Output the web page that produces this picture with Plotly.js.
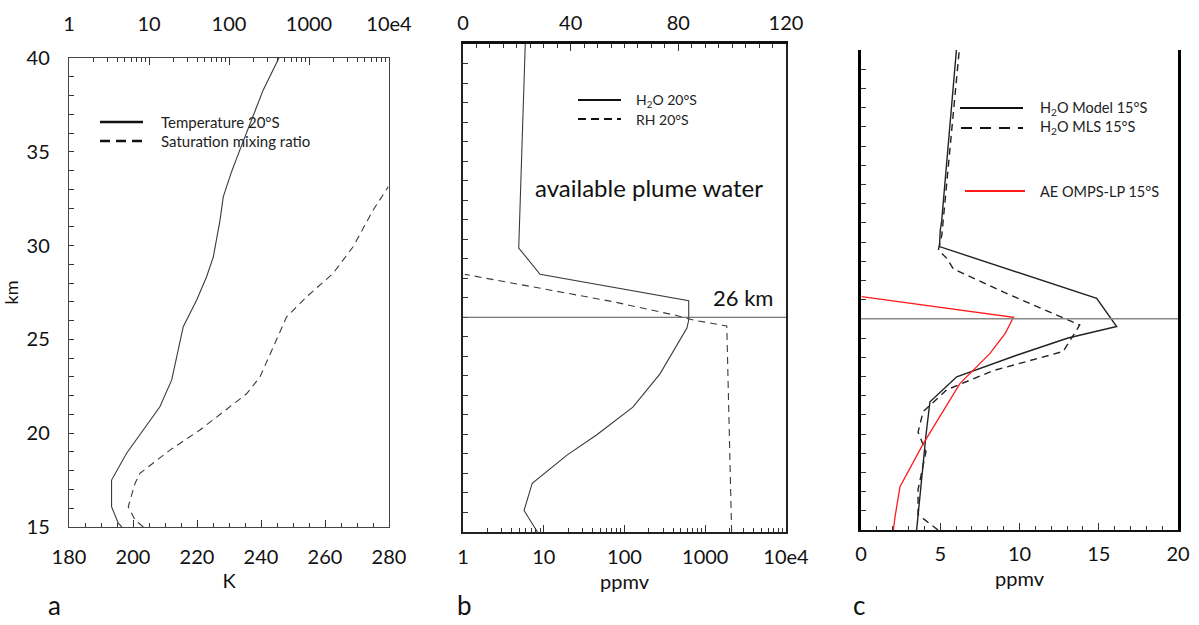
<!DOCTYPE html>
<html>
<head>
<meta charset="utf-8">
<script src="https://cdn.plot.ly/plotly-3.0.1.min.js"></script>
<style>html,body{margin:0;padding:0;background:#fff;}#plot{width:1199px;height:625px;}</style>
</head>
<body>
<div id="plot"></div>
<script>
// ---------- Panel a: temperature and saturation mixing ratio (20°S) ----------
const tempKm   = [15, 15.2, 16.08, 17.5, 18.93, 20.17, 21.41, 22.84, 24.08, 25.68, 27.1, 28.34, 29.4, 31.36, 32.6, 33.94, 35.1, 38.3, 40];
const tempK    = [196.5, 195.4, 193.3, 193.3, 198.0, 203.2, 208.4, 212.1, 213.6, 215.7, 219.9, 223.0, 225.1, 227.2, 228.2, 230.8, 233.4, 240.7, 245.6];
const satKm    = [15, 15.37, 16.08, 17.33, 17.86, 19.1, 20.17, 21.24, 22.1, 23.0, 24.6, 26.2, 27.28, 28.52, 29.94, 31.9, 33.14];
const satPpmv  = [8.5, 6.7, 5.5, 6.7, 7.7, 18.3, 43.3, 93, 166, 244, 357, 525, 940, 2000, 3560, 6350, 9800];

// ---------- Panel b: H2O and RH (20°S) ----------
const h2oKm    = [14.95, 16.1, 17.5, 18.94, 19.97, 21.4, 23.1, 25.45, 25.86, 26.85, 28.2, 29.55, 40];
const h2oPpmv  = [8.5, 5.7, 7.2, 19.4, 45, 127, 275, 593, 624, 624, 9.0, 4.9, 5.9];
const rhKm     = [15, 25.55, 25.86, 26.1, 26.8, 27.48, 28.2];
const rhPct    = [99.8, 98, 85.5, 79, 55.7, 28.6, 0.7];

// ---------- Panel c: H2O model / MLS / AE OMPS-LP (15°S) ----------
const modelKm   = [15, 17.78, 19.95, 21.68, 22.98, 24.1, 25.0, 25.6, 27.07, 29.76, 30.6, 31.1, 39.7, 40];
const modelPpmv = [3.51, 3.83, 4.1, 4.35, 6.04, 9.82, 13.06, 16.13, 14.87, 4.95, 5.0, 5.09, 6.0, 6.02];
const mlsKm     = [15, 15.8, 17.1, 19.08, 20.1, 21.16, 22.3, 23.3, 24.3, 25.68, 25.94, 27.4, 28.6, 29.15, 29.58, 30.36, 40];
const mlsPpmv   = [4.86, 3.6, 3.6, 4.1, 3.6, 3.92, 5.4, 8.34, 12.76, 13.8, 13.06, 8.97, 5.82, 5.41, 4.88, 5.1, 6.2];
const aeKm      = [15, 15.7, 17.26, 19.5, 22.64, 24.2, 25.24, 26.08, 27.15];
const aePpmv    = [2.04, 2.15, 2.46, 3.93, 6.25, 8.14, 9.1, 9.62, 0.04];

const plumeTopKm = 26;

// ---------- tick labels ----------
const logTickVals = [1, 10, 100, 1000, 10000];
const logTickText = ['1', '10', '100', '1000', '10e4'];
const rhTickVals  = [0, 40, 80, 120];
const cTopVals    = [0, 20, 40, 60, 80];

// ---------- helpers ----------
const W = 1199, H = 625;
const px = v => v / W;
const py = v => 1 - v / H;
const FONT = "Lato, 'Open Sans', sans-serif";
const logMinor = [];
for (let d = 1; d < 10000; d *= 10) for (let k = 2; k <= 9; k++) logMinor.push(d * k);

const darkLine = '#3a3a3a';
const traces = [
  {x: tempK, y: tempKm, xaxis: 'x', yaxis: 'y', mode: 'lines', name: 'Temperature 20°S',
   line: {color: darkLine, width: 1.1}},
  {x: satPpmv, y: satKm, xaxis: 'x2', yaxis: 'y', mode: 'lines', name: 'Saturation mixing ratio',
   line: {color: darkLine, width: 1.1, dash: '7px,5px'}},
  {x: h2oPpmv, y: h2oKm, xaxis: 'x3', yaxis: 'y2', mode: 'lines', name: 'H2O 20°S',
   line: {color: darkLine, width: 1.1}},
  {x: rhPct, y: rhKm, xaxis: 'x4', yaxis: 'y2', mode: 'lines', name: 'RH 20°S',
   line: {color: darkLine, width: 1.1, dash: '7px,5px'}},
  {x: modelPpmv, y: modelKm, xaxis: 'x5', yaxis: 'y3', mode: 'lines', name: 'H2O Model 15°S',
   line: {color: '#222', width: 1.4}},
  {x: mlsPpmv, y: mlsKm, xaxis: 'x5', yaxis: 'y3', mode: 'lines', name: 'H2O MLS 15°S',
   line: {color: '#222', width: 1.4, dash: '7px,5px'}},
  {x: aePpmv, y: aeKm, xaxis: 'x5', yaxis: 'y3', mode: 'lines', name: 'AE OMPS-LP 15°S',
   line: {color: '#ff1a1a', width: 1.3}}
];

const tickFont = {family: FONT, size: 20, color: '#111'};
const titleFont = {family: FONT, size: 20, color: '#111'};
const baseX = {showgrid: false, zeroline: false, showline: true, ticks: 'inside', fixedrange: true, tickfont: tickFont, tickcolor: '#333'};
const rightTicks = (ov, anc) => ({overlaying: ov, anchor: anc, side: 'right', range: [15, 40], dtick: 1, tick0: 15,
  showgrid: false, zeroline: false, showline: false, ticks: 'inside', ticklen: 5, tickcolor: '#333',
  showticklabels: false, fixedrange: true});

const dom = {
  a: {x: [px(69), px(389)], y: [py(527), py(58)]},
  b: {x: [px(463), px(786)], y: [py(532), py(44)]},
  c: {x: [px(861), px(1178)], y: [py(530), py(50)]}
};

const layout = {
  width: W, height: H,
  margin: {l: 0, r: 0, t: 0, b: 0},
  paper_bgcolor: '#fff', plot_bgcolor: 'rgba(0,0,0,0)',
  showlegend: false,
  font: {family: FONT, color: '#111'},
  // panel a
  xaxis: Object.assign({}, baseX, {domain: dom.a.x, anchor: 'y', range: [180, 280], dtick: 20, tick0: 180,
    ticklen: 7, linecolor: '#444', linewidth: 1.2, ticklabelstandoff: 12,
    minor: {dtick: 5, ticks: 'inside', ticklen: 4, tickcolor: '#333'},
    title: {text: 'K', font: titleFont, standoff: 6}}),
  xaxis2: Object.assign({}, baseX, {overlaying: 'x', anchor: 'y', side: 'top', type: 'log', range: [0, 4],
    tickmode: 'array', tickvals: logTickVals, ticktext: logTickText, ticklen: 7, linecolor: '#444', linewidth: 1.2,
    ticklabelstandoff: 18,
    minor: {tickmode: 'array', tickvals: logMinor, ticks: 'inside', ticklen: 4, tickcolor: '#333'}}),
  yaxis: {domain: dom.a.y, anchor: 'x', range: [15, 40], dtick: 5, tick0: 15, showgrid: false, zeroline: false,
    showline: true, linecolor: '#444', linewidth: 1.2, mirror: true, ticks: 'inside', ticklen: 5, tickcolor: '#333',
    minor: {dtick: 1, ticks: 'inside', ticklen: 5, tickcolor: '#333'},
    tickfont: tickFont, ticklabelstandoff: 14, fixedrange: true,
    title: {text: 'km', font: {family: FONT, size: 18}, standoff: 10}},
  yaxis4: rightTicks('y', 'x'),
  // panel b
  xaxis3: Object.assign({}, baseX, {domain: dom.b.x, anchor: 'y2', type: 'log', range: [0, 4],
    tickmode: 'array', tickvals: logTickVals, ticktext: logTickText, ticklen: 7, linecolor: '#222', linewidth: 1.6,
    ticklabelstandoff: 6,
    minor: {tickmode: 'array', tickvals: logMinor, ticks: 'inside', ticklen: 4, tickcolor: '#333'}},
    {title: {text: 'ppmv', font: titleFont, standoff: 8}}),
  xaxis4: Object.assign({}, baseX, {overlaying: 'x3', anchor: 'y2', side: 'top', range: [0, 120],
    tickmode: 'array', tickvals: rhTickVals, ticklen: 7, linecolor: '#111', linewidth: 2.6,
    ticklabelstandoff: 3,
    minor: {dtick: 5, ticks: 'inside', ticklen: 4, tickcolor: '#333'}}),
  yaxis2: {domain: dom.b.y, anchor: 'x3', range: [15, 40], dtick: 1, showgrid: false, zeroline: false,
    showline: true, linecolor: '#222', linewidth: 1.8, mirror: true, ticks: 'inside', ticklen: 5, tickcolor: '#333',
    showticklabels: false, fixedrange: true},
  yaxis5: rightTicks('y2', 'x3'),
  // panel c
  xaxis5: Object.assign({}, baseX, {domain: dom.c.x, anchor: 'y3', range: [0, 20], dtick: 5, tick0: 0,
    ticklen: 7, linecolor: '#111', linewidth: 2, ticklabelstandoff: 5,
    minor: {dtick: 1, ticks: 'inside', ticklen: 4, tickcolor: '#333'},
    title: {text: 'ppmv', font: titleFont, standoff: 8}}),
  xaxis6: Object.assign({}, baseX, {overlaying: 'x5', anchor: 'y3', side: 'top', range: [0, 80],
    tickmode: 'array', tickvals: cTopVals, ticks: '', linecolor: '#000', linewidth: 3, ticklabelstandoff: 14,
    minor: {tick0: 0, dtick: 80 / 6, ticks: 'inside', ticklen: 5, tickcolor: '#333'}}),
  yaxis3: {domain: dom.c.y, anchor: 'x5', range: [15, 40], dtick: 1, showgrid: false, zeroline: false,
    showline: true, linecolor: '#000', linewidth: 3, mirror: true, ticks: 'inside', ticklen: 5, tickcolor: '#333',
    showticklabels: false, fixedrange: true},
  yaxis6: rightTicks('y3', 'x5'),
  shapes: [
    // 26 km lines
    {type: 'line', xref: 'x3 domain', x0: 0, x1: 1, yref: 'y2', y0: plumeTopKm, y1: plumeTopKm, line: {color: '#555', width: 1}},
    {type: 'line', xref: 'x5 domain', x0: 0, x1: 1, yref: 'y3', y0: plumeTopKm, y1: plumeTopKm, line: {color: '#888', width: 1.5}},
    // legend samples panel a
    {type: 'line', xref: 'paper', yref: 'paper', x0: px(100), x1: px(143), y0: py(122), y1: py(122), line: {color: '#111', width: 2.5}},
    {type: 'line', xref: 'paper', yref: 'paper', x0: px(100), x1: px(143), y0: py(141), y1: py(141), line: {color: '#111', width: 2.5, dash: '10px,6px'}},
    // legend samples panel b
    {type: 'line', xref: 'paper', yref: 'paper', x0: px(578), x1: px(621), y0: py(100), y1: py(100), line: {color: '#111', width: 2}},
    {type: 'line', xref: 'paper', yref: 'paper', x0: px(578), x1: px(621), y0: py(119), y1: py(119), line: {color: '#111', width: 2, dash: '8px,5px'}},
    // legend samples panel c
    {type: 'line', xref: 'paper', yref: 'paper', x0: px(960), x1: px(1023), y0: py(108), y1: py(108), line: {color: '#111', width: 2.2}},
    {type: 'line', xref: 'paper', yref: 'paper', x0: px(961), x1: px(1023), y0: py(128), y1: py(128), line: {color: '#111', width: 2.2, dash: '11px,8px'}},
    {type: 'line', xref: 'paper', yref: 'paper', x0: px(965), x1: px(1025), y0: py(191), y1: py(191), line: {color: '#ff1a1a', width: 2}}
  ],
  annotations: [
    {xref: 'paper', yref: 'paper', x: px(159), y: py(122), xanchor: 'left', yanchor: 'middle', showarrow: false,
     text: 'Temperature 20°S', font: {family: FONT, size: 15, color: '#222'}},
    {xref: 'paper', yref: 'paper', x: px(159), y: py(141), xanchor: 'left', yanchor: 'middle', showarrow: false,
     text: 'Saturation mixing ratio', font: {family: FONT, size: 15, color: '#222'}},
    {xref: 'paper', yref: 'paper', x: px(634), y: py(101), xanchor: 'left', yanchor: 'middle', showarrow: false,
     text: 'H<sub>2</sub>O 20°S', font: {family: FONT, size: 14, color: '#222'}},
    {xref: 'paper', yref: 'paper', x: px(634), y: py(120), xanchor: 'left', yanchor: 'middle', showarrow: false,
     text: 'RH 20°S', font: {family: FONT, size: 14, color: '#222'}},
    {xref: 'paper', yref: 'paper', x: px(1038), y: py(108), xanchor: 'left', yanchor: 'middle', showarrow: false,
     text: 'H<sub>2</sub>O Model 15°S', font: {family: FONT, size: 14.5, color: '#222'}},
    {xref: 'paper', yref: 'paper', x: px(1038), y: py(127), xanchor: 'left', yanchor: 'middle', showarrow: false,
     text: 'H<sub>2</sub>O MLS 15°S', font: {family: FONT, size: 14.5, color: '#222'}},
    {xref: 'paper', yref: 'paper', x: px(1038), y: py(191), xanchor: 'left', yanchor: 'middle', showarrow: false,
     text: 'AE OMPS-LP 15°S', font: {family: FONT, size: 14.5, color: '#222'}},
    {xref: 'paper', yref: 'paper', x: px(649), y: py(187), xanchor: 'center', yanchor: 'middle', showarrow: false,
     text: 'available plume water', font: {family: FONT, size: 24, color: '#111'}},
    {xref: 'paper', yref: 'paper', x: px(743), y: py(297), xanchor: 'center', yanchor: 'middle', showarrow: false,
     text: '26 km', font: {family: FONT, size: 22, color: '#111'}},
    {xref: 'paper', yref: 'paper', x: px(54), y: py(605), xanchor: 'center', yanchor: 'middle', showarrow: false,
     text: 'a', font: {family: FONT, size: 26, color: '#111'}},
    {xref: 'paper', yref: 'paper', x: px(464), y: py(605), xanchor: 'center', yanchor: 'middle', showarrow: false,
     text: 'b', font: {family: FONT, size: 26, color: '#111'}},
    {xref: 'paper', yref: 'paper', x: px(859), y: py(605), xanchor: 'center', yanchor: 'middle', showarrow: false,
     text: 'c', font: {family: FONT, size: 26, color: '#111'}}
  ]
};

Plotly.newPlot('plot', traces, layout, {staticPlot: true, displayModeBar: false});
</script>
</body>
</html>
